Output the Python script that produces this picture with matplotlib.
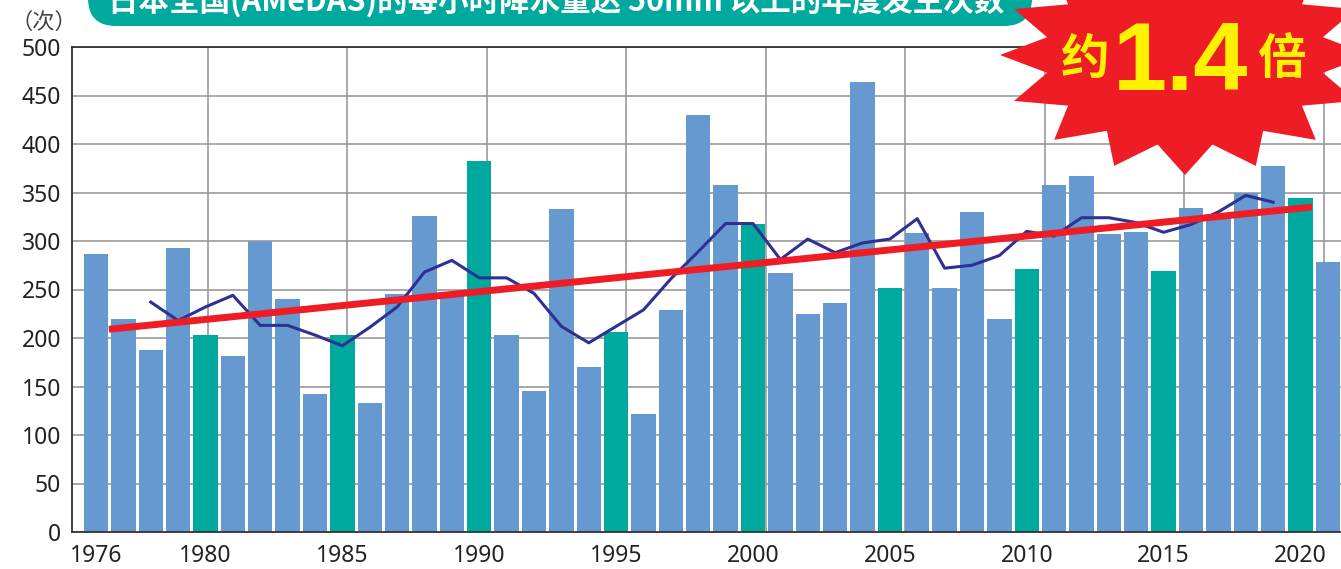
import numpy as np
import matplotlib
matplotlib.use('Agg')
import matplotlib.pyplot as plt
from matplotlib.patches import Polygon, FancyBboxPatch

# yearly counts of >=50mm/h rainfall (AMeDAS)
years = list(range(1976, 2022))
counts = [287, 220, 188, 293, 203, 181, 300, 240, 142, 203,
          133, 245, 326, 245, 382, 203, 145, 333, 170, 206,
          122, 229, 430, 358, 318, 267, 225, 236, 464, 252,
          308, 252, 330, 220, 271, 358, 367, 307, 309, 269,
          334, 328, 350, 377, 344, 278]
highlight_years = [1980, 1985, 1990, 1995, 2000, 2005, 2010, 2015, 2020]

# 5-year moving average
ma_years = list(range(1978, 2020))
ma_vals = [237, 218, 232, 244, 213, 213, 203, 192, 211, 232,
           268, 280, 262, 262, 246, 212, 195, 212, 229, 261,
           289, 318, 318, 281, 302, 288, 298, 302, 323, 272,
           275, 285, 310, 305, 324, 324, 319, 309, 317, 330,
           347, 340]

# trend line ends
trend_years = [1976.47, 2020.42]
trend_vals = [209, 335]

xtick_years = [1976, 1980, 1985, 1990, 1995, 2000, 2005, 2010, 2015, 2020]
yticks = list(range(0, 501, 50))

title = '日本全国(AMeDAS)的每小时降水量达 50mm 以上的年度发生次数'

BLUE = '#6699cf'
TEAL = '#00a99d'
NAVY = '#2e3192'
RED = '#ee1c25'
YELLOW = '#fff100'
GRID = '#9a9a9a'

plt.rcParams['font.family'] = ['Noto Sans', 'Noto Sans CJK SC', 'DejaVu Sans']

W, H = 1341, 569
fig = plt.figure(figsize=(W / 100, H / 100), dpi=100)
ax = fig.add_axes([72 / W, 1 - 532 / H, 1 - 72 / W, (532 - 47) / H])

colors = [TEAL if y in highlight_years else BLUE for y in years]
ax.bar(years, counts, width=0.89, color=colors, zorder=2)
ax.plot(ma_years, ma_vals, color=NAVY, lw=2.2, zorder=3)
ax.plot(trend_years, trend_vals, color=RED, lw=5, solid_capstyle='butt', zorder=4)

ax.set_xlim(1975.123, 2021.48)
ax.set_ylim(0, 500)
ax.set_yticks(yticks)
ax.set_xticks(xtick_years)
ax.tick_params(length=0, labelsize=16.5, colors='#222222')
ax.tick_params(axis='y', pad=8)
ax.tick_params(axis='x', pad=9)

ax.yaxis.grid(True, color=GRID, lw=1.2, zorder=1)
ax.set_axisbelow(True)
# vertical grid lines are slightly off the year positions in the original
for gx in np.arange(1980.09, 2021, 5.096):
    ax.axvline(gx, color=GRID, lw=1.2, zorder=1)

for s in ['left', 'bottom', 'top']:
    ax.spines[s].set_color('#333333')
    ax.spines[s].set_linewidth(1.3)
ax.spines['right'].set_visible(False)

# overlay in pixel coords for decorations
ov = fig.add_axes([0, 0, 1, 1], zorder=10)
ov.set_xlim(0, W)
ov.set_ylim(H, 0)
ov.axis('off')

ov.text(44, 22, '（次）', ha='center', va='center', fontsize=16,
        color='#444444', family=['Noto Sans CJK SC', 'DejaVu Sans'])

banner = FancyBboxPatch((88, -60), 944, 86, boxstyle='round,pad=0,rounding_size=28',
                        fc=TEAL, ec='none')
ov.add_patch(banner)
ov.text(556, 11, title, ha='center', va='baseline', fontsize=22, color='white',
        weight='bold', family=['Noto Sans CJK SC', 'DejaVu Sans'])

# starburst
cx, cy, rx, ry = 1185, 55, 185, 120
n = 16
pts = []
for k in range(2 * n):
    a = np.pi / 2 + k * np.pi / n
    r = 1.0 if k % 2 == 0 else 0.76
    pts.append((cx + rx * r * np.cos(a), cy + ry * r * np.sin(a)))
ov.add_patch(Polygon(pts, closed=True, fc=RED, ec='none'))

ov.text(1085, 59, '约', ha='center', va='center', fontsize=35, color=YELLOW,
        weight='bold', family=['Noto Sans CJK SC', 'DejaVu Sans'])
ov.text(1181, 90, '1.4', ha='center', va='baseline', fontsize=70, color=YELLOW,
        weight='bold', family=['Liberation Sans', 'DejaVu Sans'])
ov.text(1281, 59, '倍', ha='center', va='center', fontsize=35, color=YELLOW,
        weight='bold', family=['Noto Sans CJK SC', 'DejaVu Sans'])

fig.savefig('out.png', dpi=100)
